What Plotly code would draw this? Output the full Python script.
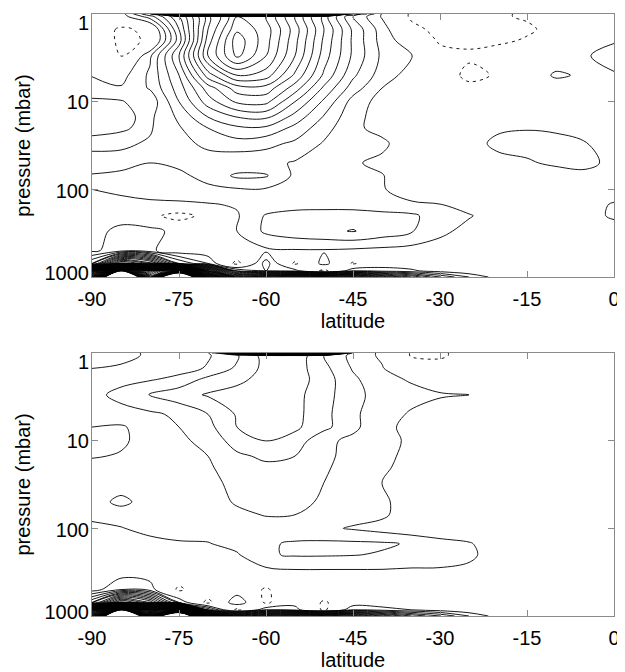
import math
import plotly.graph_objects as go

# ---------------- data ----------------
latitudes = [-90, -85, -80, -75, -70, -65, -60, -55, -50, -45, -40, -35, -30, -25, -20, -15, -10, -5, 0]
pressure_levels = [1.0, 1.07, 1.5, 2, 3, 5, 7, 10, 15, 20, 30, 50, 70, 100, 150, 200, 300, 500, 700, 850, 1000]

x_tick_values = [-90, -75, -60, -45, -30, -15, 0]
x_tick_labels = ["-90", "-75", "-60", "-45", "-30", "-15", "0"]
y_tick_pressures = [1, 10, 100, 1000]
y_tick_labels = ["1", "10", "100", "1000"]

# top panel field (rows = pressure levels, columns = latitudes)
field_top = [
    [0.4, 0.5, 4.0, 30, 40, 45, 45, 40, 30, 5.0, 0.9, -1.2, -1.5, -1.6, -1.1, -0.9, -0.3, 0.2, 0.4],
    [0.4, 0.5, 2.5, 6.0, 10.5, 14.0, 13.0, 10.0, 6.5, 3.0, 0.9, -1.2, -1.5, -1.6, -1.1, -0.9, -0.3, 0.2, 0.4],
    [0.2, -1.3, -0.6, 5.0, 11.0, 14.8, 13.5, 10.5, 7.0, 3.8, 1.5, -0.6, -1.4, -1.6, -1.4, -1.15, -0.7, 0.1, 0.4],
    [0.5, -1.4, -0.8, 4.5, 11.5, 15.6, 13.4, 10.3, 6.8, 3.8, 1.6, 0.3, -1.2, -1.4, -1.2, -0.9, -0.3, 0.4, 0.9],
    [0.6, -1.1, 1.8, 6.0, 12.0, 15.3, 13.0, 10.0, 6.5, 3.8, 1.8, 1.1, -0.5, -0.7, -0.5, -0.2, 0.2, 0.9, 1.4],
    [0.95, 0.6, 2.2, 5.0, 9.5, 12.0, 11.5, 8.8, 5.8, 3.2, 1.5, 0.6, 0.1, -1.5, -0.8, 0.1, 1.2, 0.8, 0.9],
    [1.4, 1.1, 2.1, 4.5, 7.5, 9.5, 9.6, 7.5, 4.8, 2.5, 1.0, 0.4, 0.2, -0.5, -0.2, 0.1, 0.3, 0.2, 0.2],
    [2.2, 2.1, 1.3, 4.0, 6.5, 8.2, 8.3, 6.0, 3.8, 1.6, 0.6, 0.4, 0.2, 0.1, 0.1, 0.2, 0.3, 0.3, 0.2],
    [2.4, 2.2, 1.8, 3.2, 5.0, 6.0, 6.2, 4.6, 2.9, 1.3, 0.6, 0.3, 0.2, 0.2, 0.3, 0.6, 0.6, 0.4, 0.3],
    [2.2, 2.05, 1.9, 2.9, 4.0, 4.8, 4.8, 3.7, 2.4, 1.2, 0.7, 0.3, 0.2, 0.3, 0.8, 0.95, 0.9, 0.6, 0.4],
    [1.8, 1.85, 2.1, 2.6, 3.3, 3.6, 3.3, 2.8, 1.9, 1.1, 1.2, 0.4, 0.2, 0.5, 1.3, 1.3, 1.2, 1.05, 0.6],
    [2.3, 2.3, 2.0, 2.2, 2.4, 2.2, 2.3, 1.9, 1.5, 1.1, 0.8, 0.3, 0.1, 0.2, 0.6, 0.9, 1.15, 1.2, 0.8],
    [1.95, 1.8, 1.6, 1.8, 2.3, 3.2, 3.1, 1.8, 1.4, 1.3, 1.05, 0.4, 0.1, 0.1, 0.2, 0.4, 0.6, 0.8, 0.6],
    [1.0, 1.2, 1.4, 1.6, 1.8, 1.9, 1.9, 1.6, 1.4, 1.3, 1.1, 0.4, 0.2, 0.2, 0.2, 0.2, 0.3, 0.3, 0.5],
    [0.6, 0.7, 0.8, 0.8, 0.9, 1.1, 1.4, 1.6, 1.6, 1.5, 1.3, 1.2, 1.05, 0.5, 0.3, 0.2, 0.4, 0.6, 1.1],
    [0.5, 0.4, -0.6, -1.6, -0.5, 0.9, 2.1, 2.4, 2.5, 2.6, 2.4, 2.2, 1.5, 1.1, 0.4, 0.2, 0.3, 0.5, 1.2],
    [0.5, 1.4, 1.5, 0.5, 0.6, 1.0, 2.2, 2.6, 2.8, 3.05, 2.6, 2.1, 1.3, 0.6, 0.3, 0.2, 0.2, 0.3, 0.4],
    [0.8, 1.5, 1.2, 0.3, 0.2, 0.5, 0.8, 0.9, 0.9, 0.8, 0.7, 0.6, 0.4, 0.2, 0.1, 0.1, 0.1, 0.1, 0.1],
    [4.0, 15, 12, 4.0, 2.0, -1.5, 2.5, -1.3, 1.5, -1.2, 0.4, 0.3, 0.2, 0.1, 0.1, 0.0, 0.0, 0.0, 0.0],
    [25, 60, 35, 45, 15, 3.0, 2.0, 1.5, -1.5, 2.0, 1.5, 1.2, 0.5, 0.1, 0.0, 0.0, 0.0, 0.0, 0.0],
    [35, 90, 40, 90, 30, 12, 14, 16, 15, 14, 10, 7, 4, 2, 0.5, 0.0, 0.0, 0.0, 0.0],
]

# bottom panel field
field_bottom = [
    [0.6, 0.8, 1.1, 1.6, 1.9, 10, 40, 40, 25, 1.7, 0.8, -1.1, -1.2, -0.5, 0.2, 0.2, 0.2, 0.2, 0.2],
    [0.6, 0.8, 1.1, 1.6, 1.9, 2.8, 4.5, 4.8, 3.0, 1.7, 0.8, -1.1, -1.2, -0.5, 0.2, 0.2, 0.2, 0.2, 0.2],
    [1.0, 1.1, 1.3, 1.6, 2.1, 3.2, 4.3, 4.5, 3.3, 1.9, 1.1, -0.3, -0.4, 0.0, 0.2, 0.2, 0.2, 0.2, 0.2],
    [1.3, 1.6, 1.9, 2.3, 3.3, 3.8, 4.3, 4.5, 3.5, 2.2, 1.3, 0.9, 0.4, 0.2, 0.2, 0.2, 0.2, 0.2, 0.2],
    [1.6, 2.4, 3.1, 3.6, 4.1, 4.3, 4.4, 4.3, 3.4, 2.3, 1.6, 1.3, 1.1, 1.0, 0.4, 0.2, 0.2, 0.2, 0.2],
    [1.3, 1.5, 1.8, 2.2, 3.0, 4.1, 4.4, 4.3, 3.3, 2.2, 1.4, 0.9, 0.5, 0.3, 0.2, 0.2, 0.2, 0.2, 0.2],
    [2.0, 2.1, 1.6, 2.0, 2.7, 4.0, 4.3, 4.2, 3.3, 2.2, 1.4, 0.6, 0.3, 0.2, 0.2, 0.2, 0.2, 0.2, 0.2],
    [2.3, 2.2, 1.5, 1.8, 2.3, 3.5, 4.05, 3.6, 2.2, 1.8, 1.4, 0.8, 0.3, 0.2, 0.2, 0.2, 0.2, 0.2, 0.2],
    [2.1, 1.9, 1.4, 1.6, 2.0, 2.8, 3.2, 3.0, 2.2, 1.7, 1.3, 0.7, 0.3, 0.2, 0.2, 0.2, 0.2, 0.2, 0.2],
    [1.6, 1.5, 1.3, 1.5, 1.9, 2.4, 2.8, 2.6, 2.1, 1.7, 1.2, 0.6, 0.2, 0.2, 0.2, 0.2, 0.2, 0.2, 0.2],
    [1.5, 1.4, 1.3, 1.4, 1.8, 2.2, 2.4, 2.3, 2.0, 1.5, 1.0, 0.5, 0.2, 0.2, 0.2, 0.2, 0.2, 0.2, 0.2],
    [1.5, 2.3, 1.5, 1.4, 1.6, 2.1, 2.3, 2.4, 1.8, 1.3, 1.2, 0.5, 0.2, 0.2, 0.2, 0.2, 0.2, 0.2, 0.2],
    [1.2, 1.4, 1.4, 1.4, 1.5, 1.8, 2.05, 2.0, 1.7, 1.4, 1.2, 0.4, 0.2, 0.2, 0.2, 0.2, 0.2, 0.2, 0.2],
    [0.8, 0.95, 1.3, 1.4, 1.4, 1.5, 1.6, 1.5, 1.2, 0.9, 0.6, 0.3, 0.2, 0.2, 0.2, 0.2, 0.2, 0.2, 0.2],
    [0.4, 0.5, 0.7, 0.9, 0.95, 1.3, 1.9, 2.1, 2.2, 2.2, 2.15, 1.9, 1.4, 1.1, 0.4, 0.2, 0.2, 0.2, 0.2],
    [0.3, 0.4, 0.5, 0.6, 0.7, 0.9, 1.9, 2.1, 2.1, 2.05, 1.9, 1.6, 1.5, 1.3, 0.3, 0.2, 0.2, 0.2, 0.2],
    [0.3, 0.3, 0.3, 0.3, 0.3, 0.5, 0.8, 0.95, 0.95, 0.95, 0.95, 0.9, 0.9, 0.7, 0.2, 0.2, 0.2, 0.2, 0.2],
    [0.5, 2.0, 1.5, -1.3, 0.3, 0.2, -1.2, 0.3, 0.2, 0.2, 0.2, 0.2, 0.2, 0.2, 0.2, 0.1, 0.1, 0.1, 0.1],
    [5.0, 14, 10, 2.0, -1.5, 2.0, -1.3, 0.5, -1.2, 0.2, 0.2, 0.1, 0.1, 0.1, 0.1, 0.0, 0.0, 0.0, 0.0],
    [25, 60, 30, 40, 4.0, -1.5, 2.0, 1.5, -1.3, 2.0, 1.5, 1.0, 0.5, 0.1, 0.0, 0.0, 0.0, 0.0, 0.0],
    [35, 90, 45, 85, 25, 12, 14, 15, 14, 12, 9, 6, 4, 2, 0.5, 0.0, 0.0, 0.0, 0.0],
]

# ---------------- figure ----------------
log_p = [math.log10(p) for p in pressure_levels]
y_tick_vals = [math.log10(p) for p in y_tick_pressures]

FONT = "Liberation Sans, Arial, sans-serif"
AXIS_GREY = "#8a8a8a"
FONT_SIZE = 20
PX_PER_DECADE = 87.7
# labels are nudged inside the frame at the ends (pixels, + = downward)
LABEL_NUDGE_PX = [9, 0, 2, -4]
y_label_pos = [v + d / PX_PER_DECADE for v, d in zip(y_tick_vals, LABEL_NUDGE_PX)]

fig = go.Figure()


def add_panel(z, xa, ya, ya_labels):
    fig.add_trace(go.Contour(
        x=latitudes, y=log_p, z=z,
        contours=dict(coloring="none", start=1, end=60, size=1),
        line=dict(color="black", width=0.9, smoothing=1.0),
        showscale=False, hoverinfo="skip", xaxis=xa, yaxis=ya,
    ))
    fig.add_trace(go.Contour(
        x=latitudes, y=log_p, z=z,
        contours=dict(coloring="none", start=-60, end=-1, size=1),
        line=dict(color="black", width=0.9, smoothing=1.0, dash="3px,4px"),
        showscale=False, hoverinfo="skip", xaxis=xa, yaxis=ya,
    ))
    # empty trace so that the label-only axis is instantiated
    fig.add_trace(go.Scatter(x=[], y=[], mode="markers", hoverinfo="skip",
                             showlegend=False, xaxis=xa, yaxis=ya_labels))


add_panel(field_top, "x", "y", "y3")
add_panel(field_bottom, "x2", "y2", "y4")


def xaxis_style(anchor):
    return dict(
        anchor=anchor, domain=[0, 1], range=[-90, 0], automargin=False,
        tickmode="array", tickvals=x_tick_values, ticktext=x_tick_labels,
        ticks="inside", ticklen=6, tickcolor=AXIS_GREY, tickwidth=1,
        showline=True, linecolor=AXIS_GREY, linewidth=1, mirror="ticks",
        showgrid=False, zeroline=False,
        tickfont=dict(family=FONT, size=FONT_SIZE, color="black"),
        ticklabelstandoff=4,
        title=dict(text="latitude", font=dict(family=FONT, size=FONT_SIZE, color="black"), standoff=0),
    )


def yaxis_frame(anchor, domain):
    return dict(
        anchor=anchor, domain=domain, range=[3, 0], automargin=False,
        tickmode="array", tickvals=y_tick_vals, showticklabels=False,
        ticks="inside", ticklen=6, tickcolor=AXIS_GREY, tickwidth=1,
        showline=True, linecolor=AXIS_GREY, linewidth=1, mirror="ticks",
        showgrid=False, zeroline=False,
    )


def yaxis_labels(overlay, anchor):
    return dict(
        overlaying=overlay, anchor=anchor, side="left", range=[3, 0], automargin=False,
        tickmode="array", tickvals=y_label_pos, ticktext=y_tick_labels,
        ticks="", showline=False, showgrid=False, zeroline=False,
        tickfont=dict(family=FONT, size=FONT_SIZE, color="black"),
        ticklabelstandoff=2,
        title=dict(text="pressure (mbar)", font=dict(family=FONT, size=FONT_SIZE, color="black"), standoff=8),
    )


fig.update_layout(
    width=612, height=664,
    margin=dict(l=84, r=6, t=6, b=56),
    paper_bgcolor="white", plot_bgcolor="white",
    showlegend=False,
    xaxis=xaxis_style("y"),
    yaxis=yaxis_frame("x", [0.5631, 1.0]),
    xaxis2=xaxis_style("y2"),
    yaxis2=yaxis_frame("x2", [0.0, 0.4369]),
    yaxis3=yaxis_labels("y", "x"),
    yaxis4=yaxis_labels("y2", "x2"),
)

fig.write_html("out.html")
